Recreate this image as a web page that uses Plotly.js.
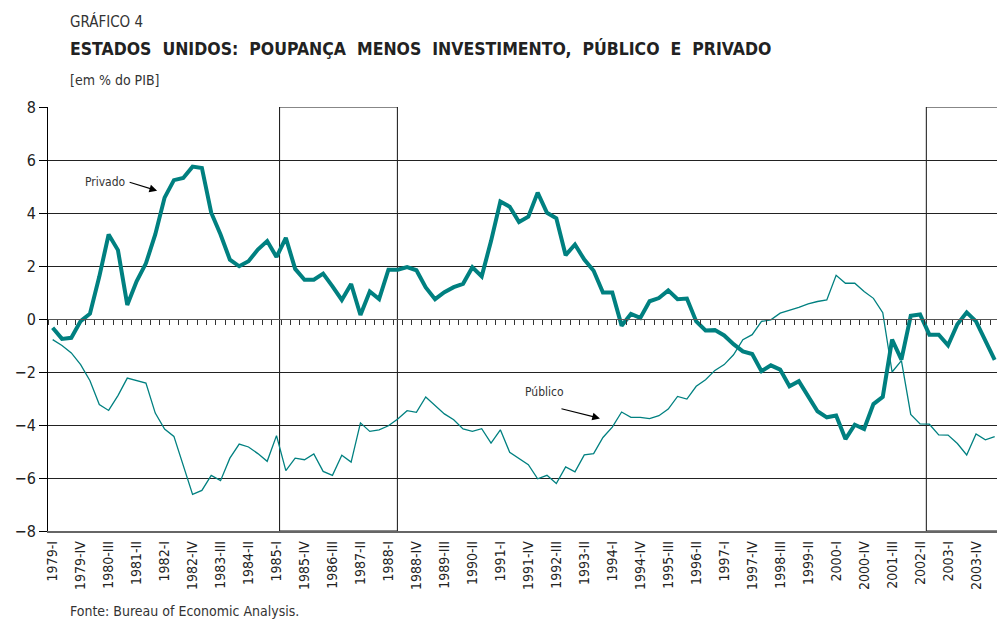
<!DOCTYPE html>
<html>
<head>
<meta charset="utf-8">
<script src="https://cdn.plot.ly/plotly-3.0.1.min.js"></script>
<style>
html, body { margin: 0; padding: 0; overflow: hidden; background: #fff; }
#chart { width: 1020px; height: 621px; }
</style>
</head>
<body>
<div id="chart"></div>
<script>
// Quarters (categories)
const quarters = [
  "1979-I","1979-II","1979-III","1979-IV","1980-I","1980-II","1980-III","1980-IV",
  "1981-I","1981-II","1981-III","1981-IV","1982-I","1982-II","1982-III","1982-IV",
  "1983-I","1983-II","1983-III","1983-IV","1984-I","1984-II","1984-III","1984-IV",
  "1985-I","1985-II","1985-III","1985-IV","1986-I","1986-II","1986-III","1986-IV",
  "1987-I","1987-II","1987-III","1987-IV","1988-I","1988-II","1988-III","1988-IV",
  "1989-I","1989-II","1989-III","1989-IV","1990-I","1990-II","1990-III","1990-IV",
  "1991-I","1991-II","1991-III","1991-IV","1992-I","1992-II","1992-III","1992-IV",
  "1993-I","1993-II","1993-III","1993-IV","1994-I","1994-II","1994-III","1994-IV",
  "1995-I","1995-II","1995-III","1995-IV","1996-I","1996-II","1996-III","1996-IV",
  "1997-I","1997-II","1997-III","1997-IV","1998-I","1998-II","1998-III","1998-IV",
  "1999-I","1999-II","1999-III","1999-IV","2000-I","2000-II","2000-III","2000-IV",
  "2001-I","2001-II","2001-III","2001-IV","2002-I","2002-II","2002-III","2002-IV",
  "2003-I","2003-II","2003-III","2003-IV","2004-I","2004-II","2004-III","2004-IV"
];

// Privado: poupança menos investimento do setor privado (% do PIB)
const privado = [
  -0.33, -0.75, -0.71, -0.08, 0.20, 1.60, 3.19, 2.60,
   0.53, 1.42, 2.10, 3.19, 4.58, 5.24, 5.32, 5.75,
   5.70, 4.01, 3.19, 2.24, 1.99, 2.18, 2.62, 2.94,
   2.34, 3.06, 1.89, 1.48, 1.48, 1.71, 1.23, 0.72,
   1.32, 0.15, 1.04, 0.75, 1.86, 1.86, 1.96, 1.84,
   1.19, 0.75, 1.01, 1.20, 1.33, 1.95, 1.61, 2.94,
   4.43, 4.24, 3.66, 3.86, 4.77, 4.01, 3.80, 2.41,
   2.81, 2.24, 1.82, 1.00, 1.00, -0.25, 0.19, 0.04,
   0.67, 0.79, 1.08, 0.75, 0.77, -0.09, -0.43, -0.42,
  -0.62, -0.95, -1.22, -1.32, -1.97, -1.75, -1.91, -2.54,
  -2.35, -2.92, -3.48, -3.71, -3.64, -4.53, -3.99, -4.15,
  -3.21, -2.94, -0.78, -1.53, 0.12, 0.17, -0.59, -0.59,
  -0.99, -0.20, 0.25, -0.09, -0.84, -1.54
];

// Público: poupança menos investimento do setor público (% do PIB)
const publico = [
  -0.78, -1.00, -1.28, -1.72, -2.33, -3.23, -3.45, -2.89,
  -2.23, -2.33, -2.42, -3.55, -4.15, -4.43, -5.56, -6.62,
  -6.47, -5.90, -6.10, -5.25, -4.72, -4.83, -5.08, -5.37,
  -4.40, -5.72, -5.25, -5.31, -5.09, -5.75, -5.90, -5.14,
  -5.40, -3.92, -4.24, -4.18, -4.03, -3.77, -3.46, -3.52,
  -2.94, -3.27, -3.58, -3.80, -4.15, -4.24, -4.14, -4.68,
  -4.18, -5.03, -5.25, -5.50, -6.03, -5.90, -6.21, -5.58,
  -5.77, -5.13, -5.08, -4.47, -4.08, -3.51, -3.71, -3.71,
  -3.76, -3.65, -3.40, -2.92, -3.02, -2.54, -2.29, -1.94,
  -1.72, -1.35, -0.78, -0.59, -0.09, -0.03, 0.22, 0.32,
   0.44, 0.57, 0.66, 0.72, 1.65, 1.35, 1.35, 1.04,
   0.78, 0.24, -2.00, -1.57, -3.60, -3.96, -3.97, -4.37,
  -4.38, -4.70, -5.13, -4.34, -4.56, -4.44
];

// Highlighted periods (boxes), in quarter-index units
const boxStarts = [24.33, 93.67];
const boxEnds   = [36.96, 110];

const titleSmall = "GRÁFICO 4";
const titleMain  = "ESTADOS&nbsp; UNIDOS:&nbsp; POUPANÇA&nbsp; MENOS&nbsp; INVESTIMENTO,&nbsp; PÚBLICO&nbsp; E&nbsp; PRIVADO";
const subtitle   = "[em % do PIB]";
const source     = "Fonte: Bureau of Economic Analysis.";

const FONT = "'DejaVu Sans Condensed', 'Liberation Sans Narrow', sans-serif";
const TEAL = "#008080";

const xIdx = (arr) => arr.map((_, i) => i);
const tickIdx = quarters.map((_, i) => i).filter(i => i % 3 === 0);
const boundaries = [];
for (let i = 0; i <= quarters.length; i++) boundaries.push(i - 0.5);

const traces = [
  {
    x: xIdx(publico), y: publico, type: "scatter", mode: "lines",
    line: { color: TEAL, width: 1.3 }, name: "Público",
    xaxis: "x", yaxis: "y", showlegend: false, hoverinfo: "skip"
  },
  {
    x: xIdx(privado), y: privado, type: "scatter", mode: "lines",
    line: { color: TEAL, width: 4 }, name: "Privado",
    xaxis: "x2", yaxis: "y", showlegend: false, hoverinfo: "skip"
  }
];

const xr = [-0.5, 103.5];

const shapes = boxStarts.map((s, k) => ({
  type: "rect", xref: "x", yref: "y", x0: s, x1: boxEnds[k], y0: -8, y1: 8,
  line: { color: "#111", width: 1 }, fillcolor: "rgba(0,0,0,0)", layer: "below"
}));

const annotations = [
  { xref: "paper", yref: "paper", x: 20/970, y: (531-21)/424, xanchor: "left", yanchor: "middle",
    text: titleSmall, showarrow: false, font: { family: FONT, size: 15, color: "#333" } },
  { xref: "paper", yref: "paper", x: 20/970, y: (531-48)/424, xanchor: "left", yanchor: "middle",
    text: "<b>" + titleMain + "</b>", showarrow: false, font: { family: FONT, size: 17.5, color: "#222" } },
  { xref: "paper", yref: "paper", x: 20/970, y: (531-80)/424, xanchor: "left", yanchor: "middle",
    text: subtitle, showarrow: false, font: { family: FONT, size: 14, color: "#333" } },
  { xref: "paper", yref: "paper", x: 20/970, y: (531-611)/424, xanchor: "left", yanchor: "middle",
    text: source, showarrow: false, font: { family: FONT, size: 14, color: "#333" } },
  { xref: "x", yref: "y", x: 5.7, y: 5.17, text: "Privado", showarrow: false,
    font: { family: FONT, size: 12, color: "#333" } },
  { xref: "x", yref: "y", x: 52.75, y: -2.75, text: "Público", showarrow: false,
    font: { family: FONT, size: 12, color: "#333" } },
  { xref: "x", yref: "y", x: 11.2, y: 4.84, ax: -29, ay: -9, text: "", showarrow: true,
    arrowhead: 2, arrowsize: 1.4, arrowwidth: 1.1, arrowcolor: "#000", standoff: 0 },
  { xref: "x", yref: "y", x: 58.68, y: -3.75, ax: -40, ay: -10, text: "", showarrow: true,
    arrowhead: 2, arrowsize: 1.4, arrowwidth: 1.1, arrowcolor: "#000", standoff: 0 }
];

const layout = {
  width: 1020, height: 621,
  margin: { l: 48, r: 2, t: 107, b: 90 },
  paper_bgcolor: "#fff", plot_bgcolor: "#fff",
  showlegend: false,
  font: { family: FONT, color: "#222" },
  xaxis: {
    range: xr, tickmode: "array", tickvals: tickIdx, ticktext: tickIdx.map(i => quarters[i]),
    tickangle: -90, ticks: "", showgrid: false, zeroline: false,
    showline: true, linecolor: "#666", linewidth: 1.5, mirror: false,
    tickfont: { family: FONT, size: 14, color: "#222" }, ticklabelstandoff: 3
  },
  xaxis2: {
    range: xr, overlaying: "x", anchor: "free", position: 0.5, side: "bottom",
    tickmode: "array", tickvals: boundaries, ticks: "outside", ticklen: 5, tickwidth: 1,
    tickcolor: "#333", showticklabels: false, showgrid: false, zeroline: false,
    showline: true, linecolor: "#555", linewidth: 1.3
  },
  yaxis: {
    range: [-8, 8], tickmode: "linear", tick0: 0, dtick: 2,
    showgrid: true, gridcolor: "#222", gridwidth: 1, zeroline: false,
    showline: true, linecolor: "#000", linewidth: 1,
    ticks: "outside", ticklen: 8, tickcolor: "#000",
    tickfont: { family: FONT, size: 16, color: "#222" }
  },
  shapes: shapes,
  annotations: annotations
};

Plotly.newPlot("chart", traces, layout, { staticPlot: true, displayModeBar: false });
</script>
</body>
</html>
